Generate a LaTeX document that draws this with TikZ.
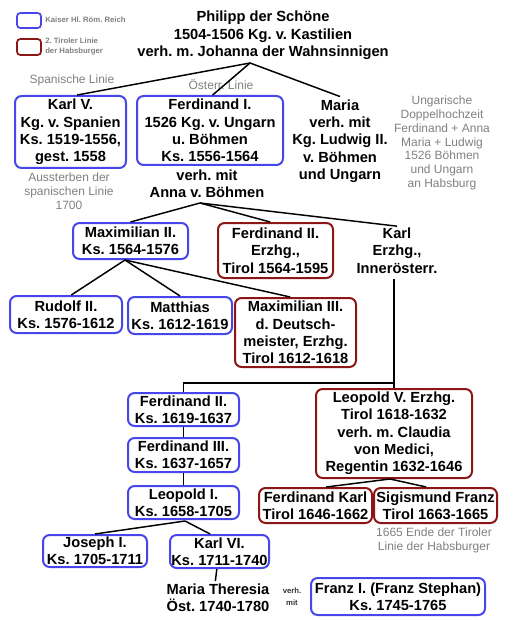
\documentclass[tikz,border=0pt]{standalone}
\usepackage{fontspec}
\setmainfont{Liberation Sans}
\frenchspacing
\definecolor{kblue}{RGB}{70,70,235}
\definecolor{tred}{RGB}{140,22,22}
\definecolor{note}{RGB}{128,128,128}
\begin{document}
\begin{tikzpicture}[x=0.75pt,y=-0.75pt,
  sz/.style 2 args={minimum width=#1*0.75pt, minimum height=#2*0.75pt},
  base/.style={align=center, inner sep=0pt, font=\bfseries\fontsize{11}{13}\selectfont},
  kbox/.style={base, draw=kblue, rounded corners=5pt, line width=1.5pt},
  tbox/.style={base, draw=tred, rounded corners=5pt, line width=1.5pt},
  plain/.style={base},
  notetext/.style={align=center, inner sep=0pt, text=note, font=\fontsize{9}{10.3}\selectfont},
  legtext/.style={align=left, anchor=west, inner sep=0pt, text=note, font=\bfseries\fontsize{5.8}{7.5}\selectfont},
  conn/.style={line width=1.1pt, black}
]
\path[use as bounding box] (0,0) rectangle (517,620);

% legend
\node[kbox, sz={24}{15}, line width=1.3pt, rounded corners=2.5pt] (legk) at (29,20.5) {};
\node[legtext] (legkt) at (45,20) {Kaiser Hl. Röm. Reich};
\node[tbox, sz={24}{16}, line width=1.3pt, rounded corners=2.5pt] (legt) at (29,47) {};
\node[legtext] (legtt) at (45,47) {2. Tiroler Linie\\der Habsburger};

% title
\node[plain, font=\bfseries\fontsize{11}{13.1}\selectfont] (phil) at (263,35.5) {Philipp der Schöne\\1504-1506 Kg. v. Kastilien\\verh. m. Johanna der Wahnsinnigen};
\coordinate (jp) at (250,63);

% generation 1
\node[kbox, sz={111}{72}] (karl5) at (70.5,132) {Karl V.\\Kg. v. Spanien\\Ks. 1519-1556,\\gest. 1558};
\node[kbox, sz={146}{69}] (ferd1) at (210,130.5) {Ferdinand I.\\1526 Kg. v. Ungarn\\u. Böhmen\\Ks. 1556-1564};
\node[plain] (maria) at (340,141) {Maria\\verh. mit\\Kg. Ludwig II.\\v. Böhmen\\und Ungarn};
\node[plain] (anna) at (207,183.5) {verh. mit\\Anna v. Böhmen};

\node[notetext] (span) at (72,80) {Spanische Linie};
\node[notetext] (oest) at (221,85) {Österr. Linie};
\node[notetext] (ausst) at (69,191) {Aussterben der\\spanischen Linie\\1700};
\node[notetext] (ungar) at (442,143) {Ungarische\\Doppelhochzeit\\Ferdinand + Anna\\Maria + Ludwig\\1526 Böhmen\\und Ungarn\\an Habsburg};

\draw[conn] (jp) -- ([xshift=5pt]karl5.north);
\draw[conn] (jp) -- ([xshift=2pt]ferd1.north);
\draw[conn] (jp) -- ([yshift=2pt]maria.north);

% generation 2
\coordinate (ja) at (200,203);
\node[kbox, sz={115}{36}] (max2) at (130.5,241) {Maximilian II.\\Ks. 1564-1576};
\node[tbox, sz={115}{55}] (ferd2e) at (275.5,250.5) {Ferdinand II.\\Erzhg.,\\Tirol 1564-1595};
\node[plain] (karle) at (397,250.5) {Karl\\Erzhg.,\\Innerösterr.};

\draw[conn] (ja) -- (max2.north);
\draw[conn] (ja) -- ([xshift=-4pt]ferd2e.north);
\draw[conn] (ja) -- ([yshift=1pt]karle.north);

% generation 3
\coordinate (jm) at (125,260);
\node[kbox, sz={112}{37}] (rud) at (66,314.5) {Rudolf II.\\Ks. 1576-1612};
\node[kbox, sz={104}{37}] (mat) at (180,315.5) {Matthias\\Ks. 1612-1619};
\node[tbox, sz={121}{69}] (max3) at (295.5,332.5) {Maximilian III.\\d. Deutsch-\\meister, Erzhg.\\Tirol 1612-1618};

\draw[conn] (jm) -- ([xshift=4pt]rud.north);
\draw[conn] (jm) -- (mat.north);
\draw[conn] (jm) -- ([xshift=-4pt]max3.north);

% Karl's line
\node[kbox, sz={111}{33}] (f2k) at (183.5,409.5) {Ferdinand II.\\Ks. 1619-1637};
\node[kbox, sz={111}{34}] (f3k) at (183.5,455) {Ferdinand III.\\Ks. 1637-1657};
\node[kbox, sz={111}{33}] (leo1) at (183.5,502.5) {Leopold I.\\Ks. 1658-1705};
\node[tbox, sz={156}{89}] (leo5) at (394,433.5) {Leopold V. Erzhg.\\Tirol 1618-1632\\verh. m. Claudia\\von Medici,\\Regentin 1632-1646};
\coordinate (jk) at (394,383);

\draw[conn] ([yshift=-4pt]karle.south -| leo5.north) -- (leo5.north);
\draw[conn] (jk) -| (f2k.north);
\draw[conn] (f2k) -- (f3k);
\draw[conn] (f3k) -- (leo1);

% Tyrol line
\coordinate (jl) at (390,479);
\node[tbox, sz={113}{35}] (fkarl) at (315.5,505.5) {Ferdinand Karl\\Tirol 1646-1662};
\node[tbox, sz={123}{35}] (sig) at (435.5,505.5) {Sigismund Franz\\Tirol 1663-1665};
\node[notetext] (ende) at (434,540.5) {1665 Ende der Tiroler\\Linie der Habsburger};
\draw[conn] (jl) -- ([xshift=8pt]fkarl.north);
\draw[conn] (jl) -- ([xshift=-7pt]sig.north);

% last generation
\coordinate (jl1) at (185,521);
\node[kbox, sz={104}{32}] (jos) at (95,551) {Joseph I.\\Ks. 1705-1711};
\node[kbox, sz={99}{33}] (karl6) at (219.5,551.5) {Karl VI.\\Ks. 1711-1740};
\draw[conn] (jl1) -- (jos.north);
\draw[conn] (jl1) -- ([xshift=-7pt]karl6.north);

\node[plain] (mt) at (218,598) {Maria Theresia\\Öst. 1740-1780};
\draw[conn] ([xshift=-2pt]karl6.south) -- ([xshift=-2pt,yshift=2pt]mt.north);
\node[align=center, inner sep=0pt, text=black!80, font=\bfseries\fontsize{5.8}{9}\selectfont] (vm) at (292,597) {verh.\\mit};
\node[kbox, sz={174}{37}] (franz) at (398,596.5) {Franz I. (Franz Stephan)\\Ks. 1745-1765};
\end{tikzpicture}
\end{document}
